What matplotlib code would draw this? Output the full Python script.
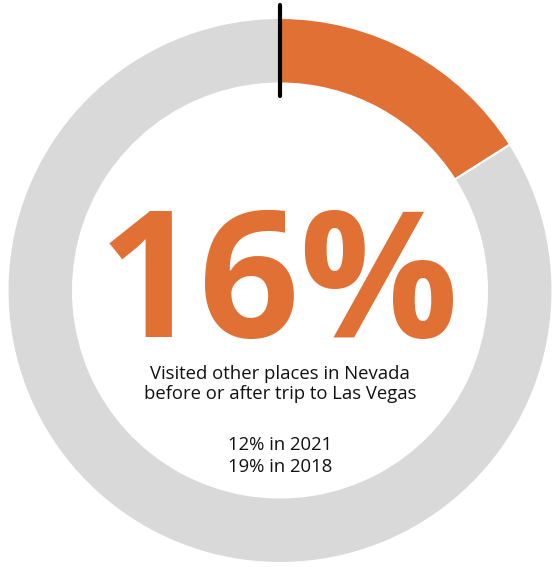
import matplotlib.pyplot as plt

# Share of visitors who went elsewhere in Nevada
share = 16
labels = ["Visited other places", "Did not"]
values = [share, 100 - share]
headline = f"{share}%"
caption = ["Visited other places in Nevada", "before or after trip to Las Vegas"]
history = ["12% in 2021", "19% in 2018"]

ORANGE = "#E07034"
GREY = "#D9D9D9"

W, H = 552, 567
fig = plt.figure(figsize=(W / 100, H / 100), dpi=100)
ax = fig.add_axes([0, 0, 1, 1])

cx, cy = 280, H - 290.5
r_out, r_in = 272.5, 207

ax.pie(values, colors=[ORANGE, GREY], startangle=90, counterclock=False,
       radius=r_out, center=(cx, cy),
       wedgeprops=dict(width=r_out - r_in, edgecolor="white", linewidth=1.5))

# marker at the start of the ring
ax.plot([cx, cx], [H - 5, H - 96], color="black", lw=3, solid_capstyle="round", zorder=5)

ax.text(cx - 1, H - 337, headline, ha="center", va="baseline", color=ORANGE,
        fontsize=127, fontweight="bold", family="Open Sans")
ax.text(cx, H - 384, "\n".join(caption), ha="center", va="center", color="#111111",
        fontsize=13.3, family="Open Sans", linespacing=1.2)
ax.text(cx, H - 456, "\n".join(history), ha="center", va="center", color="#111111",
        fontsize=13.3, family="Open Sans", linespacing=1.3)

ax.set_xlim(0, W)
ax.set_ylim(0, H)
ax.set_aspect("equal")
ax.axis("off")

fig.savefig("out.png", dpi=100, facecolor="white")
